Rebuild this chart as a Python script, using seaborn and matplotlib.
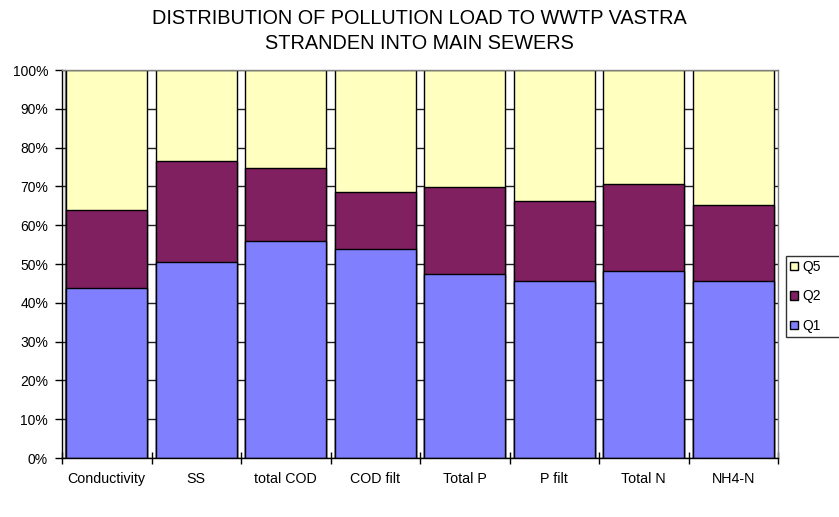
import matplotlib
matplotlib.use("Agg")
import matplotlib.pyplot as plt
import seaborn as sns
import pandas as pd
from matplotlib.patches import Patch
from matplotlib.ticker import FixedLocator

plt.rcParams['font.family'] = ['Liberation Sans', 'DejaVu Sans']

categories = ["Conductivity", "SS", "total COD", "COD filt", "Total P", "P filt", "Total N", "NH4-N"]
q1 = [43.9, 50.6, 55.9, 53.9, 47.3, 45.5, 48.2, 45.5]
q2 = [19.9, 25.9, 18.9, 14.6, 22.5, 20.7, 22.3, 19.7]
q5 = [100 - a - b for a, b in zip(q1, q2)]
colors = {"Q1": "#8080FF", "Q2": "#802060", "Q5": "#FFFFC0"}
title = "DISTRIBUTION OF POLLUTION LOAD TO WWTP VASTRA\nSTRANDEN INTO MAIN SEWERS"

df = pd.DataFrame({"cat": categories, "Q1": q1, "Q2": q2, "Q5": q5})
df["top_Q1"] = df["Q1"]
df["top_Q2"] = df["Q1"] + df["Q2"]
df["top_Q5"] = df["Q1"] + df["Q2"] + df["Q5"]

W, H = 839, 517
fig = plt.figure(figsize=(W / 100, H / 100), dpi=100)
ax = fig.add_axes([62 / W, (H - 458) / H, (778 - 62) / W, (458 - 70) / H])

for name in ["Q5", "Q2", "Q1"]:
    sns.barplot(data=df, x="cat", y="top_" + name, color=colors[name], width=0.91,
                edgecolor="black", linewidth=1, saturation=1, ax=ax, errorbar=None,
                order=categories)

ax.set_xlim(-0.5, len(categories) - 0.5)
ax.set_ylim(0, 100)
ax.set_yticks(range(0, 101, 10))
ax.set_yticklabels([f"{v}%" for v in range(0, 101, 10)], fontsize=10)
ax.set_xlabel("")
ax.set_ylabel("")

ax.set_axisbelow(True)
ax.yaxis.grid(True, color="#202020", linewidth=1)
ax.xaxis.grid(False)

ax.tick_params(axis="x", which="major", length=0, labelsize=10.3, pad=10)
ax.xaxis.set_minor_locator(FixedLocator([i - 0.5 for i in range(len(categories) + 1)]))
ax.tick_params(axis="x", which="minor", direction="inout", length=8, width=1, color="black")
ax.tick_params(axis="y", which="major", direction="out", length=5, width=1, color="black", pad=5)

for s in ["top", "right"]:
    ax.spines[s].set_color("#808080")
    ax.spines[s].set_linewidth(1)
for s in ["left", "bottom"]:
    ax.spines[s].set_color("black")
    ax.spines[s].set_linewidth(1)

ax.plot([0.004, 0.004], [0, 1], transform=ax.transAxes, color="#808080", lw=1, clip_on=False, zorder=0.5)

fig.suptitle(title, x=0.5, y=1 - 9 / H, fontsize=14.3, va="top", linespacing=1.4)

handles = [Patch(facecolor=colors[n], edgecolor="black", linewidth=1, label=n) for n in ["Q5", "Q2", "Q1"]]
leg = fig.legend(handles=handles, loc="upper left",
                 bbox_to_anchor=(786 / W, 1 - 256 / H, 80 / W, 0), mode="expand",
                 bbox_transform=fig.transFigure, fontsize=10, frameon=True, fancybox=False,
                 handlelength=0.55, handleheight=0.55, handletextpad=0.35, borderpad=0.3,
                 labelspacing=1.1, borderaxespad=0)
leg.get_frame().set_edgecolor("black")
leg.get_frame().set_linewidth(1)

fig.savefig("out.png", dpi=100)
